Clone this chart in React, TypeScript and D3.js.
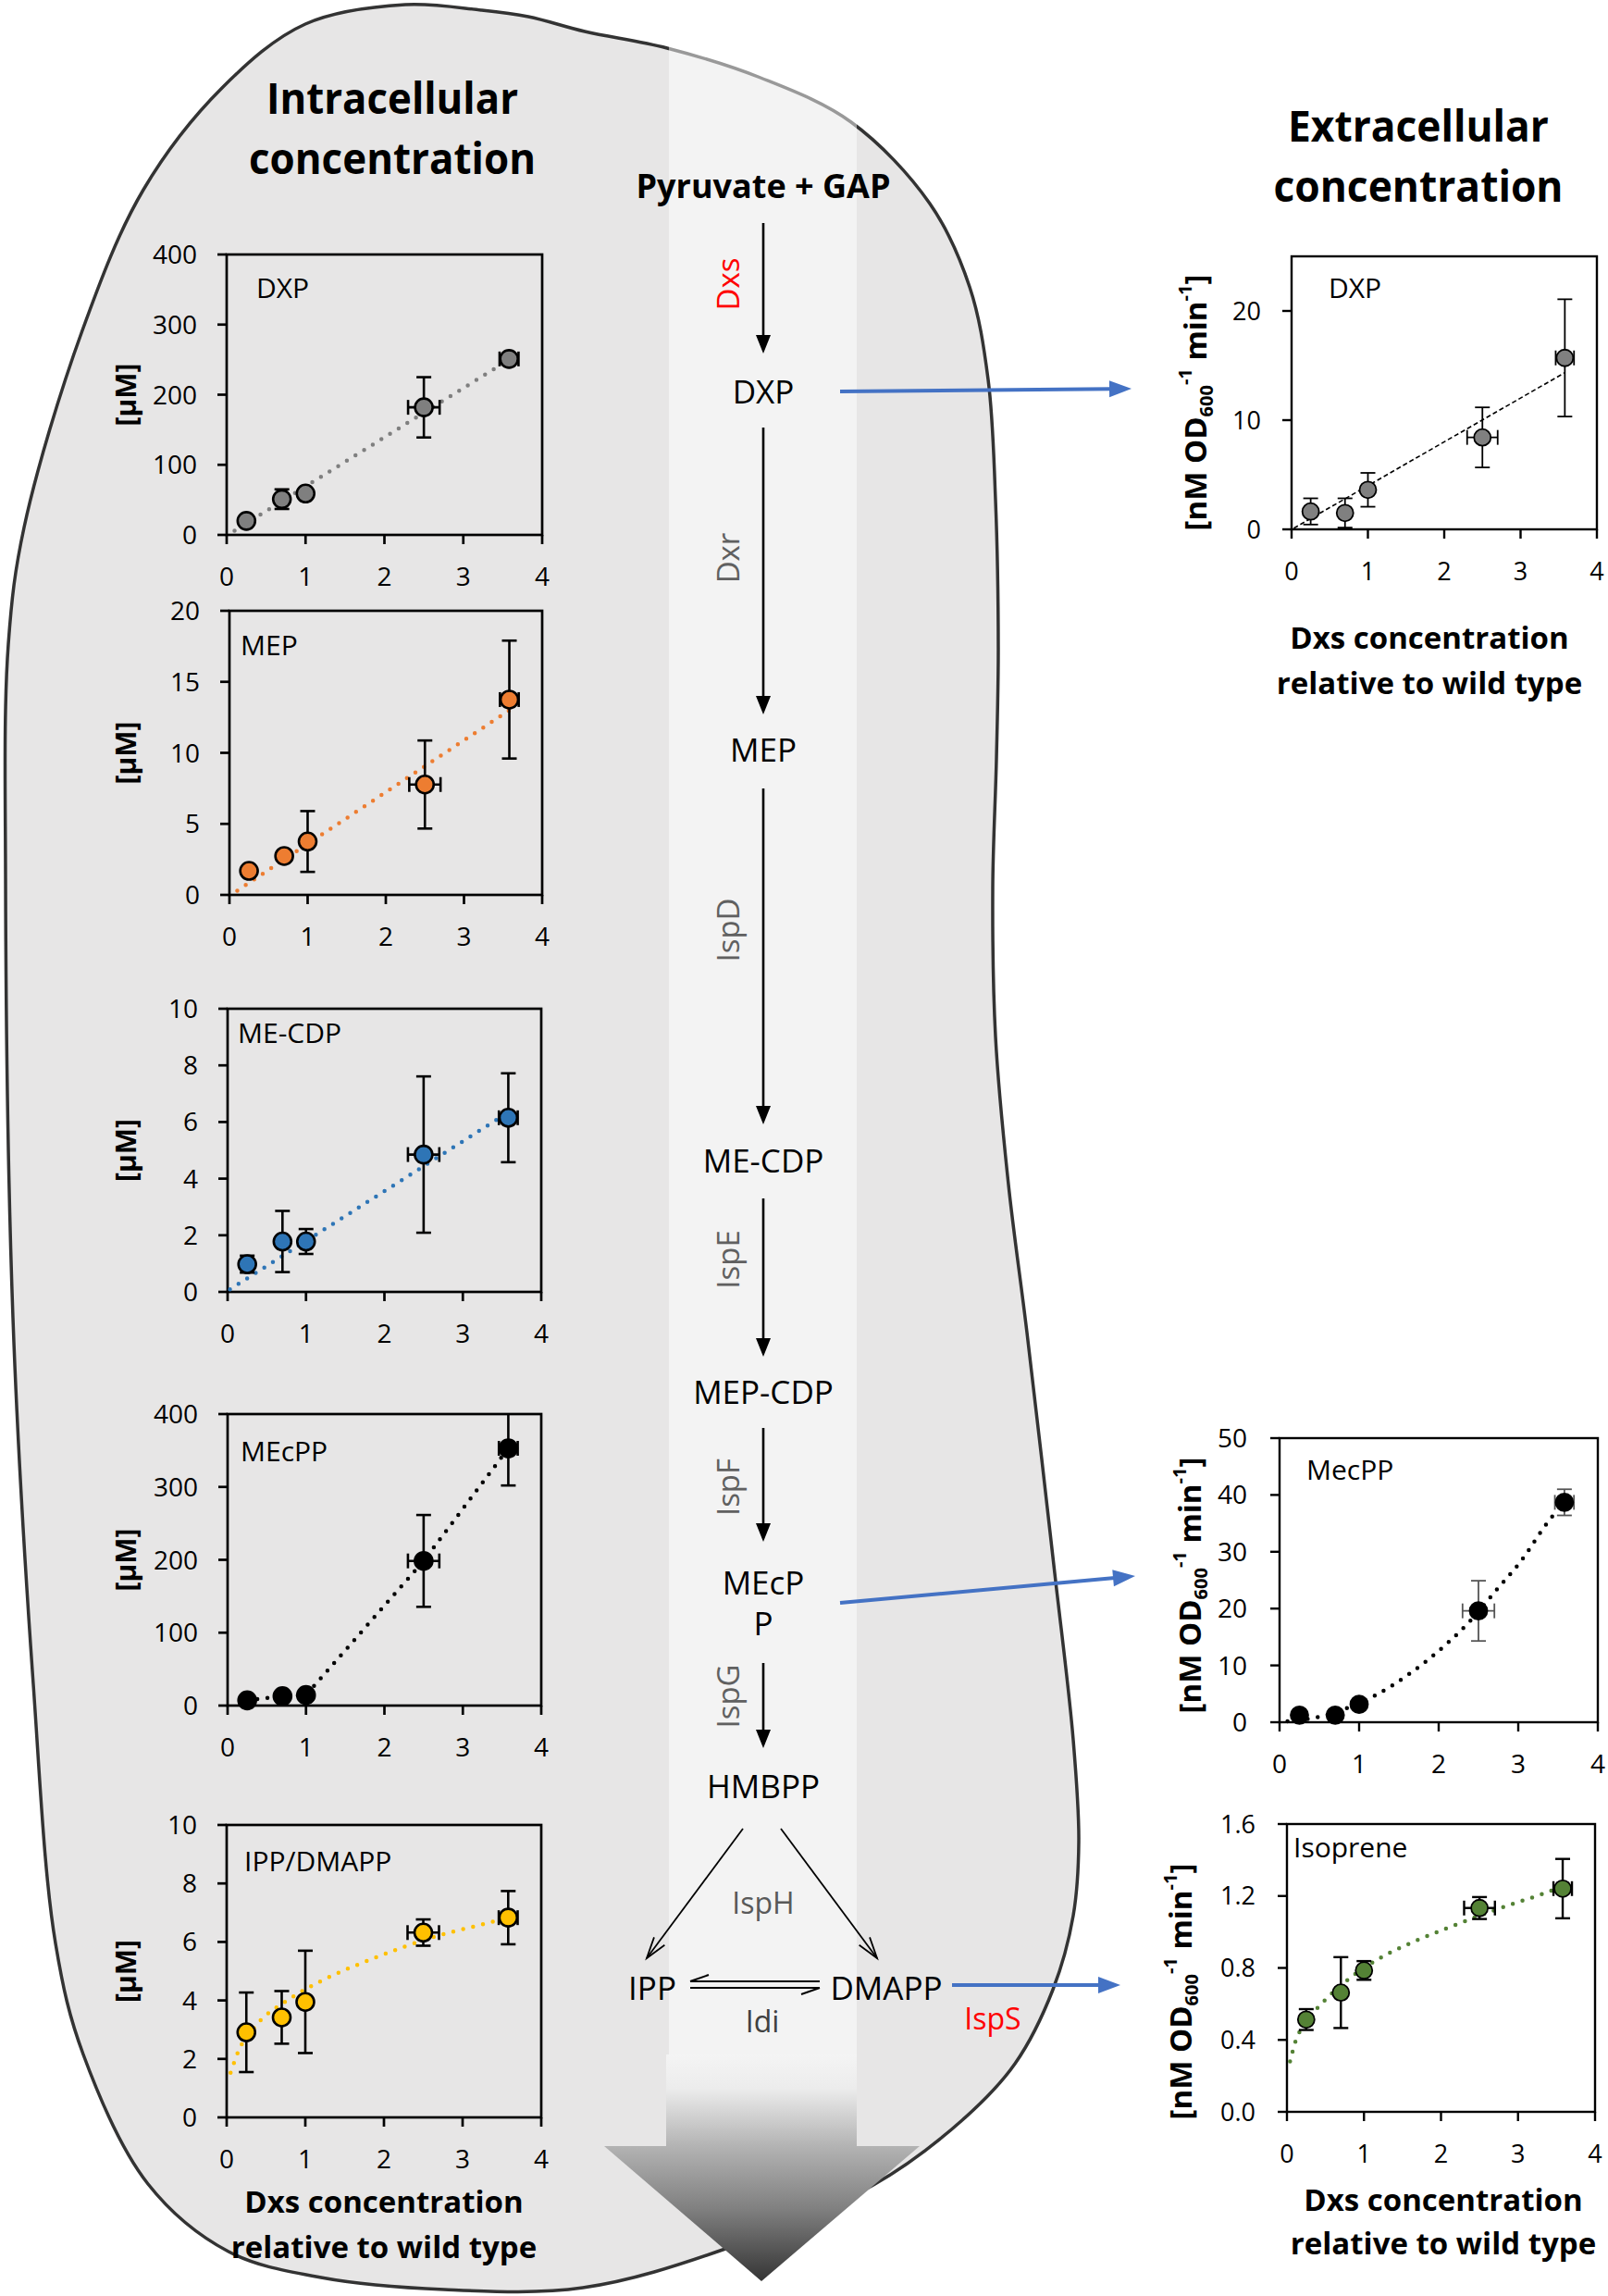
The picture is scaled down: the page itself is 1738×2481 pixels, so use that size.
import React from "react";
import * as d3 from "d3";

const FONT = "'Open Sans', 'DejaVu Sans', sans-serif";

// ---------- data ----------
const dxsLevels = [0.25, 0.7, 1.0, 2.5, 3.58];
const dxsLevelErr = [0, 0, 0, 0.2, 0.12];
const xTicks = [0, 1, 2, 3, 4];

// intracellular [µM]
const dxpIn = [20, 51, 59, 182, 251];
const dxpInErr = [3, 14, 3, 43, 5];
const mepIn = [1.69, 2.74, 3.76, 7.77, 13.75];
const mepInErr = [0.3, 0.1, 2.14, 3.1, 4.15];
const mecdpIn = [0.98, 1.78, 1.78, 4.85, 6.15];
const mecdpInErr = [0.3, 1.08, 0.44, 2.76, 1.57];
const mecppIn = [7.2, 13, 14.4, 198.5, 353];
const mecppInErr = [3, 4, 4, 63, 51];
const ippIn = [2.91, 3.42, 3.95, 6.32, 6.83];
const ippInErr = [1.36, 0.9, 1.75, 0.45, 0.91];

// extracellular [nM OD600^-1 min^-1]
const dxpEx = [1.64, 1.5, 3.62, 8.42, 15.7];
const dxpExErr = [1.2, 1.34, 1.55, 2.75, 5.37];
const mecppEx = [1.25, 1.25, 3.15, 19.6, 38.7];
const mecppExErr = [0.5, 0.8, 0.6, 5.3, 2.3];
const isopreneEx = [0.513, 0.663, 0.786, 1.133, 1.241];
const isopreneExErr = [0.058, 0.197, 0.052, 0.061, 0.165];

// trend lines
const dxpInTrend: [number, number][] = [[0.1, 6], [3.58, 250]];
const mepInTrend: [number, number][] = [[0.1, 0.3], [3.58, 13.0]];
const mecdpInTrend: [number, number][] = [[0.03, 0.09], [3.58, 6.34]];
const mecppInTrend: [number, number][] = dxsLevels.map((d, i) => [d, mecppIn[i]]);
const ippInTrend: [number, number][] = [
  [0.05, 1.53], [0.15, 2.27], [0.37, 3.13], [0.81, 4.07], [1.19, 4.65],
  [1.85, 5.42], [2.67, 6.2], [3.22, 6.58], [3.5, 6.77],
];
const dxpExTrend: [number, number][] = [[0.03, 0.11], [3.58, 14.35]];
const mecppExTrend: [number, number][] = [
  [0.1, 0.16], [0.5, 0.98], [0.85, 2.5], [1.16, 4.4], [1.62, 8.4], [1.97, 12.2],
  [2.38, 17.6], [2.74, 23.5], [3.02, 28.1], [3.35, 34.8], [3.5, 37.5],
];
const isopreneExTrend: [number, number][] = [
  [0.04, 0.28], [0.11, 0.39], [0.25, 0.5], [0.47, 0.61], [0.75, 0.72], [1.27, 0.87],
  [1.67, 0.95], [2.07, 1.02], [2.89, 1.15], [3.31, 1.21], [3.55, 1.25],
];

const pathwayMetabolites = ["Pyruvate + GAP", "DXP", "MEP", "ME-CDP", "MEP-CDP", "MEcP", "P", "HMBPP"];
const pathwayEnzymes = ["Dxs", "Dxr", "IspD", "IspE", "IspF", "IspG"];

// ---------- layout ----------
const CELL_OUTLINE: [number, number][] = [
  [438, 5], [520, 11], [571, 18], [632, 34], [721, 52], [822, 84], [920, 132], [1005, 220],
  [1048, 310], [1068, 410], [1076, 540], [1079, 700], [1077, 820], [1073, 960], [1076, 1120],
  [1090, 1280], [1110, 1440], [1140, 1700], [1160, 1880], [1166, 1990], [1160, 2070],
  [1138, 2150], [1097, 2230], [1040, 2291], [944, 2361], [784, 2430], [630, 2472],
  [480, 2474], [347, 2461], [247, 2433], [160, 2360], [90, 2220], [60, 2100], [36, 1820],
  [14, 1424], [6, 949], [9, 696], [26, 570], [89, 357], [155, 205], [240, 95], [330, 26],
];

type Panel = {
  label: string; values: number[]; errs: number[]; color: string;
  trend: [number, number][]; trendColor: string; trendStyle: "dots" | "dash"; curve: any;
  box: { l: number; r: number; t: number; b: number };
  yMax: number; yTicks: number[]; fmt: (v: number) => string;
  labelPos: [number, number]; side: "in" | "ex"; errColor: string; r: number; sw: number;
  tickSize: number; labelGap: number;
};

const fmtInt = (v: number) => String(v);
const fmt1 = d3.format(".1f");

const leftPanels: Panel[] = [
  { label: "DXP", values: dxpIn, errs: dxpInErr, color: "#7f7f7f", trend: dxpInTrend, trendColor: "#7f7f7f", trendStyle: "dots", curve: d3.curveLinear,
    box: { l: 245, r: 586, t: 275, b: 578 }, yMax: 400, yTicks: [0, 100, 200, 300, 400], fmt: fmtInt, labelPos: [277, 322], side: "in", errColor: "#000", r: 9.5, sw: 2.6, tickSize: 28, labelGap: 32 },
  { label: "MEP", values: mepIn, errs: mepInErr, color: "#ED7D31", trend: mepInTrend, trendColor: "#ED7D31", trendStyle: "dots", curve: d3.curveLinear,
    box: { l: 248, r: 586, t: 660, b: 967 }, yMax: 20, yTicks: [0, 5, 10, 15, 20], fmt: fmtInt, labelPos: [260, 708], side: "in", errColor: "#000", r: 9.5, sw: 2.6, tickSize: 28, labelGap: 32 },
  { label: "ME-CDP", values: mecdpIn, errs: mecdpInErr, color: "#2E75B6", trend: mecdpInTrend, trendColor: "#2E75B6", trendStyle: "dots", curve: d3.curveLinear,
    box: { l: 246, r: 585, t: 1090, b: 1396 }, yMax: 10, yTicks: [0, 2, 4, 6, 8, 10], fmt: fmtInt, labelPos: [257, 1127], side: "in", errColor: "#000", r: 9.5, sw: 2.6, tickSize: 28, labelGap: 32 },
  { label: "MEcPP", values: mecppIn, errs: mecppInErr, color: "#000000", trend: mecppInTrend, trendColor: "#000000", trendStyle: "dots", curve: d3.curveLinear,
    box: { l: 246, r: 585, t: 1528, b: 1843 }, yMax: 400, yTicks: [0, 100, 200, 300, 400], fmt: fmtInt, labelPos: [260, 1579], side: "in", errColor: "#000", r: 9.5, sw: 2.6, tickSize: 28, labelGap: 32 },
  { label: "IPP/DMAPP", values: ippIn, errs: ippInErr, color: "#FFC000", trend: ippInTrend, trendColor: "#FFC000", trendStyle: "dots", curve: d3.curveMonotoneX,
    box: { l: 245, r: 585, t: 1972, b: 2288 }, yMax: 10, yTicks: [0, 2, 4, 6, 8, 10], fmt: fmtInt, labelPos: [264, 2022], side: "in", errColor: "#000", r: 9.5, sw: 2.6, tickSize: 28, labelGap: 32 },
];

const rightPanels: Panel[] = [
  { label: "DXP", values: dxpEx, errs: dxpExErr, color: "#808080", trend: dxpExTrend, trendColor: "#000", trendStyle: "dash", curve: d3.curveLinear,
    box: { l: 1396, r: 1726, t: 277, b: 572 }, yMax: 25, yTicks: [0, 10, 20], fmt: fmtInt, labelPos: [1436, 322], side: "ex", errColor: "#000", r: 9, sw: 1.8, tickSize: 27, labelGap: 33 },
  { label: "MecPP", values: mecppEx, errs: mecppExErr, color: "#000000", trend: mecppExTrend, trendColor: "#000", trendStyle: "dots", curve: d3.curveMonotoneX,
    box: { l: 1383, r: 1727, t: 1554, b: 1861 }, yMax: 50, yTicks: [0, 10, 20, 30, 40, 50], fmt: fmtInt, labelPos: [1412, 1599], side: "ex", errColor: "#555", r: 9.5, sw: 1.8, tickSize: 28, labelGap: 35 },
  { label: "Isoprene", values: isopreneEx, errs: isopreneExErr, color: "#548235", trend: isopreneExTrend, trendColor: "#548235", trendStyle: "dots", curve: d3.curveMonotoneX,
    box: { l: 1391, r: 1724, t: 1971, b: 2282 }, yMax: 1.6, yTicks: [0, 0.4, 0.8, 1.2, 1.6], fmt: fmt1, labelPos: [1398, 2007], side: "ex", errColor: "#000", r: 9, sw: 2.4, tickSize: 27, labelGap: 34 },
];

function PanelView({ p }: { p: Panel }) {
  const { l, r, t, b } = p.box;
  const x = d3.scaleLinear().domain([0, 4]).range([l, r]);
  const y = d3.scaleLinear().domain([0, p.yMax]).range([b, t]);
  const line = d3.line<[number, number]>().x((d) => x(d[0])).y((d) => y(d[1])).curve(p.curve);
  const cap = 8;
  const frameW = p.side === "in" ? 2.7 : 2.4;
  return (
    <g>
      <rect x={l} y={t} width={r - l} height={b - t} fill={p.side === "ex" ? "#fff" : "none"} stroke="#000" strokeWidth={frameW} />
      {p.yTicks.map((v) => (
        <g key={"y" + v}>
          <line x1={l - 10} x2={l} y1={y(v)} y2={y(v)} stroke="#000" strokeWidth={frameW} />
          <text x={l - p.labelGap} y={y(v) + p.tickSize * 0.36} textAnchor="end" fontSize={p.tickSize} fontFamily={FONT} fill="#000">{p.fmt(v)}</text>
        </g>
      ))}
      {xTicks.map((v) => (
        <g key={"x" + v}>
          <line x1={x(v)} x2={x(v)} y1={b} y2={b + 10} stroke="#000" strokeWidth={frameW} />
          <text x={x(v)} y={b + 55} textAnchor="middle" fontSize={p.tickSize} fontFamily={FONT} fill="#000">{v}</text>
        </g>
      ))}
      <path d={line(p.trend) || ""} fill="none" stroke={p.trendColor}
        strokeWidth={p.trendStyle === "dash" ? 1.6 : 4.5}
        strokeDasharray={p.trendStyle === "dash" ? "5 3" : "0 11"}
        strokeLinecap={p.trendStyle === "dash" ? "butt" : "round"} />
      {p.values.map((v, i) => {
        const cx = x(dxsLevels[i]);
        const cy = y(v);
        const e = p.errs[i];
        const topClip = v + e > p.yMax;
        const y1 = y(Math.min(v + e, p.yMax));
        const y2 = y(Math.max(v - e, 0));
        const xe = dxsLevelErr[i];
        return (
          <g key={"e" + i} stroke={p.errColor} strokeWidth={p.sw}>
            <line x1={cx} x2={cx} y1={y1} y2={y2} />
            {!topClip && <line x1={cx - cap} x2={cx + cap} y1={y1} y2={y1} />}
            <line x1={cx - cap} x2={cx + cap} y1={y2} y2={y2} />
            {xe > 0 && (
              <g>
                <line x1={x(dxsLevels[i] - xe)} x2={x(dxsLevels[i] + xe)} y1={cy} y2={cy} />
                <line x1={x(dxsLevels[i] - xe)} x2={x(dxsLevels[i] - xe)} y1={cy - cap} y2={cy + cap} />
                <line x1={x(dxsLevels[i] + xe)} x2={x(dxsLevels[i] + xe)} y1={cy - cap} y2={cy + cap} />
              </g>
            )}
          </g>
        );
      })}
      {p.values.map((v, i) => (
        <circle key={"m" + i} cx={x(dxsLevels[i])} cy={y(v)} r={p.r} fill={p.color} stroke="#000" strokeWidth={p.side === "in" ? 2.6 : 1.8} />
      ))}
      <text x={p.labelPos[0]} y={p.labelPos[1]} fontSize={30} fontFamily={FONT} fill="#000">{p.label}</text>
    </g>
  );
}

function arrow(x1: number, y1: number, x2: number, y2: number, color: string, w: number, len: number, half: number, key: string) {
  const ang = Math.atan2(y2 - y1, x2 - x1);
  const bx = x2 - len * Math.cos(ang);
  const by = y2 - len * Math.sin(ang);
  const px = -Math.sin(ang) * half;
  const py = Math.cos(ang) * half;
  return (
    <g key={key}>
      <line x1={x1} y1={y1} x2={bx + Math.cos(ang) * 2} y2={by + Math.sin(ang) * 2} stroke={color} strokeWidth={w} />
      <polygon points={`${x2},${y2} ${bx + px},${by + py} ${bx - px},${by - py}`} fill={color} />
    </g>
  );
}

function openArrow(x1: number, y1: number, x2: number, y2: number, key: string) {
  const ang = Math.atan2(y2 - y1, x2 - x1);
  const len = 24;
  const a1 = ang + Math.PI - 0.3;
  const a2 = ang + Math.PI + 0.3;
  return (
    <g key={key} stroke="#000" strokeWidth={1.8} fill="none">
      <line x1={x1} y1={y1} x2={x2} y2={y2} />
      <polyline points={`${x2 + len * Math.cos(a1)},${y2 + len * Math.sin(a1)} ${x2},${y2} ${x2 + len * Math.cos(a2)},${y2 + len * Math.sin(a2)}`} />
    </g>
  );
}

function YTitleRight({ x, cy }: { x: number; cy: number }) {
  return (
    <text transform={`translate(${x},${cy}) rotate(-90)`} textAnchor="middle" fontSize={33} fontWeight="bold" fontFamily={FONT} fill="#000">
      [nM OD<tspan fontSize={20} dy={7}>600</tspan>
      <tspan fontSize={20} dy={-23}>-1</tspan>
      <tspan dy={16}> min</tspan>
      <tspan fontSize={20} dy={-16}>-1</tspan>
      <tspan dy={16}>]</tspan>
    </text>
  );
}

export default function App() {
  const shapeD = d3.line().curve(d3.curveCatmullRomClosed.alpha(0.5))(CELL_OUTLINE) || "";
  const cx = 825;
  const metY = [214, 436, 823, 1267, 1517, 1723, 1767, 1943];
  const enzY = [307, 603, 1005, 1361, 1607, 1833];
  const enzColor = ["#FF0000", "#606060", "#606060", "#606060", "#606060", "#606060"];
  const flowArrows: [number, number][] = [[241, 382], [462, 772], [852, 1215], [1295, 1466], [1543, 1666], [1797, 1889]];

  return (
    <svg width={1738} height={2481} viewBox="0 0 1738 2481" style={{ position: "absolute", left: 0, top: 0 }} xmlns="http://www.w3.org/2000/svg">
      <defs>
        <linearGradient id="flowGrad" gradientUnits="userSpaceOnUse" x1={0} y1={2220} x2={0} y2={2465}>
          <stop offset="0" stopColor="#f4f4f4" />
          <stop offset="0.15" stopColor="#ececec" />
          <stop offset="0.4" stopColor="#b4b4b4" />
          <stop offset="0.68" stopColor="#808080" />
          <stop offset="1" stopColor="#353535" />
        </linearGradient>
        <mask id="bandMask">
          <path d={shapeD} fill="#fff" stroke="#fff" strokeWidth={10} />
        </mask>
      </defs>
      <rect x={0} y={0} width={1738} height={2481} fill="#fff" />

      <path d={shapeD} fill="#e7e6e6" stroke="#333" strokeWidth={3.5} />
      <rect x={723} y={0} width={203} height={2220} fill="#fff" fillOpacity={0.5} mask="url(#bandMask)" />

      <g fontFamily={FONT} fontWeight="bold" fontSize={46} fill="#000" textAnchor="middle">
        <text x={424} y={123} textLength={272} lengthAdjust="spacingAndGlyphs">Intracellular</text>
        <text x={424} y={188} textLength={310} lengthAdjust="spacingAndGlyphs">concentration</text>
        <text x={1533} y={153} textLength={282} lengthAdjust="spacingAndGlyphs">Extracellular</text>
        <text x={1533} y={218} textLength={313} lengthAdjust="spacingAndGlyphs">concentration</text>
      </g>

      <text x={cx} y={metY[0]} textAnchor="middle" fontFamily={FONT} fontWeight="bold" fontSize={36}>{pathwayMetabolites[0]}</text>
      {pathwayMetabolites.slice(1).map((m, i) => (
        <text key={m + i} x={cx} y={metY[i + 1]} textAnchor="middle" fontFamily={FONT} fontSize={35} fill="#000">{m}</text>
      ))}
      {flowArrows.map((a, i) => arrow(cx, a[0], cx, a[1], "#000", 2.6, 20, 8, "fa" + i))}
      {pathwayEnzymes.map((e, i) => (
        <text key={e} transform={`translate(${787},${enzY[i]}) rotate(-90)`} textAnchor="middle" dy={12} fontFamily={FONT} fontSize={33} fill={enzColor[i]}>{e}</text>
      ))}

      {openArrow(803, 1976, 699, 2116, "oa1")}
      {openArrow(844, 1976, 948, 2116, "oa2")}
      <text x={825} y={2068} textAnchor="middle" fontFamily={FONT} fontSize={32} fill="#595959">IspH</text>
      <text x={705} y={2161} textAnchor="middle" fontFamily={FONT} fontSize={35}>IPP</text>
      <text x={958} y={2161} textAnchor="middle" fontFamily={FONT} fontSize={35}>DMAPP</text>
      <g stroke="#000" strokeWidth={2} fill="none">
        <line x1={746} y1={2141} x2={886} y2={2141} />
        <line x1={746} y1={2141} x2={766} y2={2134} />
        <line x1={746} y1={2148} x2={886} y2={2148} />
        <line x1={886} y1={2148} x2={866} y2={2155} />
      </g>
      <text x={824} y={2196} textAnchor="middle" fontFamily={FONT} fontSize={32} fill="#404040">Idi</text>
      <text x={1073} y={2193} textAnchor="middle" fontFamily={FONT} fontSize={32} fill="#FF0000">IspS</text>

      <rect x={720} y={2220} width={206} height={100} fill="url(#flowGrad)" />
      <polygon points="653,2319 994,2319 823,2465" fill="url(#flowGrad)" />

      {arrow(908, 423, 1223, 420, "#4472C4", 4, 24, 9, "b1")}
      {arrow(908, 1732, 1227, 1703, "#4472C4", 4, 24, 9, "b2")}
      {arrow(1029, 2145, 1211, 2145, "#4472C4", 4, 24, 9, "b3")}

      {leftPanels.map((p) => (
        <g key={"L" + p.label}>
          <PanelView p={p} />
          <text transform={`translate(${147},${(p.box.t + p.box.b) / 2}) rotate(-90)`} textAnchor="middle" fontSize={30} fontWeight="bold" fontFamily={FONT}>[µM]</text>
        </g>
      ))}
      {rightPanels.map((p) => (
        <g key={"R" + p.label}>
          <PanelView p={p} />
        </g>
      ))}
      <YTitleRight x={1304} cy={435} />
      <YTitleRight x={1298} cy={1713} />
      <YTitleRight x={1288} cy={2152} />

      <g fontFamily={FONT} fontWeight="bold" fontSize={33} textAnchor="middle" fill="#000">
        <text x={415} y={2391}>Dxs concentration</text>
        <text x={415} y={2440}>relative to wild type</text>
        <text x={1545} y={701}>Dxs concentration</text>
        <text x={1545} y={750}>relative to wild type</text>
        <text x={1560} y={2389}>Dxs concentration</text>
        <text x={1560} y={2436}>relative to wild type</text>
      </g>
    </svg>
  );
}
